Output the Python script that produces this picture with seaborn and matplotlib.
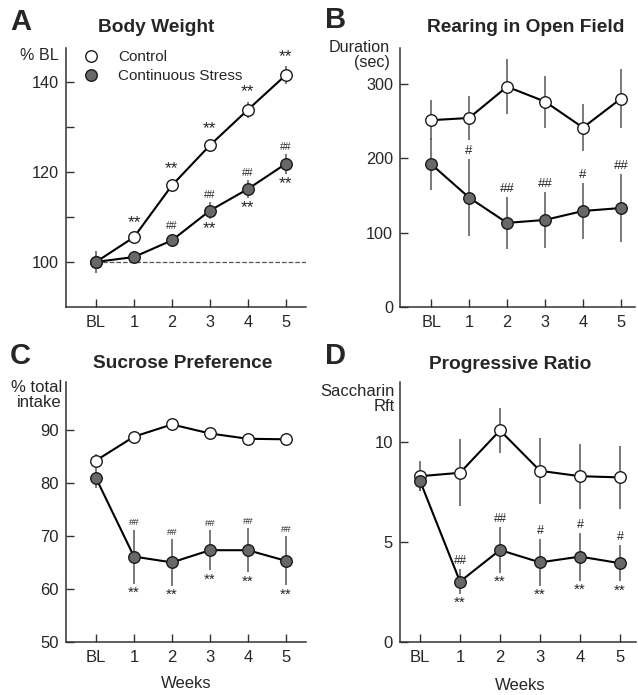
import numpy as np
import pandas as pd
import matplotlib
matplotlib.use('Agg')
import matplotlib.pyplot as plt
from matplotlib.lines import Line2D
import seaborn as sns

# DATOS
weeks = ['BL', '1', '2', '3', '4', '5']
groups = ['Control', 'Continuous Stress']

bw_ctrl = [100, 105.5, 117.0, 125.9, 133.8, 141.5]
bw_ctrl_err = [1.5, 1.2, 1.5, 1.5, 1.8, 2.0]
bw_stress = [100, 101.1, 104.8, 111.4, 116.2, 121.8]
bw_stress_err = [2.4, 1.0, 1.5, 1.8, 2.0, 2.2]

rear_ctrl = [251, 254, 296, 276, 241, 280]
rear_ctrl_err = [27, 30, 37, 35, 32, 40]
rear_stress = [192, 147, 113, 117, 129, 133]
rear_stress_err = [35, 52, 35, 38, 38, 46]

suc_ctrl = [84.2, 88.7, 91.0, 89.3, 88.3, 88.2]
suc_ctrl_err = [1.2, 1.0, 0.8, 1.0, 0.8, 0.9]
suc_stress = [80.9, 66.1, 65.0, 67.3, 67.3, 65.3]
suc_stress_err = [1.8, 5.1, 4.4, 3.8, 4.2, 4.6]

pr_ctrl = [8.29, 8.46, 10.58, 8.56, 8.29, 8.23]
pr_ctrl_err = [0.76, 1.68, 1.13, 1.66, 1.63, 1.56]
pr_stress = [8.06, 3.02, 4.6, 3.98, 4.27, 3.94]
pr_stress_err = [0.5, 0.61, 1.13, 1.16, 1.2, 0.91]

# anotaciones: (grupo, semana, texto, lado, tamano)
ann_A = [('Control', i, '**', 'up', 12.5) for i in range(1, 6)] + \
        [('Continuous Stress', i, '##', 'up', 7.5) for i in range(2, 6)] + \
        [('Continuous Stress', i, '**', 'down', 12.5) for i in range(3, 6)]
ann_B = [('Continuous Stress', 1, '#', 'up', 9.5), ('Continuous Stress', 2, '##', 'up', 9.5),
         ('Continuous Stress', 3, '##', 'up', 9.5), ('Continuous Stress', 4, '#', 'up', 9.5),
         ('Continuous Stress', 5, '##', 'up', 9.5)]
ann_C = [('Continuous Stress', i, '##', 'up', 6.8) for i in range(1, 6)] + \
        [('Continuous Stress', i, '**', 'down', 11) for i in range(1, 6)]
ann_D = [('Continuous Stress', 1, '##', 'up', 8.5), ('Continuous Stress', 2, '##', 'up', 8.5),
         ('Continuous Stress', 3, '#', 'up', 9), ('Continuous Stress', 4, '#', 'up', 9),
         ('Continuous Stress', 5, '#', 'up', 9)] + \
        [('Continuous Stress', i, '**', 'down', 11) for i in range(1, 6)]

sns.set_style('ticks')
plt.rcParams['font.family'] = ['Liberation Sans', 'DejaVu Sans']

FILL = {'Control': 'white', 'Continuous Stress': '#686868'}


def panel(ax, ctrl, ctrl_err, stress, stress_err, ann, xlim, ylim, yticks, ylabels, fs):
    df = pd.DataFrame({'pos': list(range(6)) * 2,
                       'val': ctrl + stress,
                       'err': ctrl_err + stress_err,
                       'grupo': ['Control'] * 6 + ['Continuous Stress'] * 6})
    for g in groups:
        d = df[df.grupo == g]
        ax.errorbar(d.pos, d.val, yerr=d.err, fmt='none', ecolor='#555555',
                    elinewidth=1.1, capsize=0, zorder=1)
        sns.lineplot(data=d, x='pos', y='val', ax=ax, color='black', lw=1.5,
                     marker='o', markersize=8.3, markerfacecolor=FILL[g],
                     markeredgecolor='#1a1a1a', markeredgewidth=1.0,
                     errorbar=None, legend=False, zorder=3)
    for g, i, txt, side, s in ann:
        d = df[(df.grupo == g) & (df.pos == i)].iloc[0]
        if side == 'up':
            ax.annotate(txt, (i, d.val + d.err), xytext=(0, 1.5), textcoords='offset points',
                        ha='center', va='bottom', fontsize=s)
        else:
            ax.annotate(txt, (i, d.val - d.err), xytext=(0, -1.5), textcoords='offset points',
                        ha='center', va='top', fontsize=s)
    ax.set_xlim(*xlim)
    ax.set_ylim(*ylim)
    ax.set_xticks(range(6))
    ax.set_xticklabels(weeks)
    ax.set_yticks(yticks)
    ax.set_yticklabels(ylabels)
    ax.tick_params(direction='in', length=6, width=1, labelsize=fs, color='#333333')
    ax.tick_params(axis='x', pad=6)
    ax.tick_params(axis='y', pad=5)
    ax.set_xlabel('')
    ax.set_ylabel('')
    for s in ['top', 'right']:
        ax.spines[s].set_visible(False)
    for s in ['left', 'bottom']:
        ax.spines[s].set_color('#333333')
        ax.spines[s].set_linewidth(1.1)


fig = plt.figure(figsize=(6.38, 6.95), dpi=100)
W, H = 638, 695


def add_ax(l, r, t, b):
    return fig.add_axes([l / W, 1 - b / H, (r - l) / W, (b - t) / H])


axA = add_ax(66, 306, 48, 307)
axB = add_ax(400, 635, 48, 307)
axC = add_ax(66, 306, 382, 642)
axD = add_ax(400, 636, 382, 642)

panel(axA, bw_ctrl, bw_ctrl_err, bw_stress, bw_stress_err, ann_A, (-0.79, 5.53), (90, 147.5),
      [100, 110, 120, 130, 140], ['100', '', '120', '', '140'], 11.7)
axA.plot([0, 5.53], [100, 100], ls='--', color='#555555', lw=0.9, zorder=0)
panel(axB, rear_ctrl, rear_ctrl_err, rear_stress, rear_stress_err, ann_B, (-0.82, 5.37), (0, 348),
      [0, 100, 200, 300], ['0', '100', '200', '300'], 11.7)
panel(axC, suc_ctrl, suc_ctrl_err, suc_stress, suc_stress_err, ann_C, (-0.79, 5.53), (50, 99),
      [50, 60, 70, 80, 90], ['50', '60', '70', '80', '90'], 12)
panel(axD, pr_ctrl, pr_ctrl_err, pr_stress, pr_stress_err, ann_D, (-0.5, 5.4), (0, 13),
      [0, 5, 10], ['0', '5', '10'], 12)

# leyenda
handles = [Line2D([], [], ls='none', marker='o', ms=8.3, mfc=FILL[g], mec='#1a1a1a', mew=1.0)
           for g in groups]
axA.legend(handles, groups, loc='upper left', bbox_to_anchor=(0.015, 1.015), frameon=False,
           fontsize=11, handletextpad=0.8, labelspacing=0.32, borderaxespad=0.0)

# titulos y letras
fig.text(10 / W, 1 - 22 / H, 'A', fontsize=21, fontweight='bold', va='center')
fig.text(325 / W, 1 - 20 / H, 'B', fontsize=21, fontweight='bold', va='center')
fig.text(10 / W, 1 - 356 / H, 'C', fontsize=21, fontweight='bold', va='center')
fig.text(325 / W, 1 - 356 / H, 'D', fontsize=21, fontweight='bold', va='center')
fig.text(156 / W, 1 - 27 / H, 'Body Weight', fontsize=13.8, fontweight='bold', ha='center', va='center')
fig.text(526 / W, 1 - 27 / H, 'Rearing in Open Field', fontsize=13.8, fontweight='bold', ha='center', va='center')
fig.text(183 / W, 1 - 363 / H, 'Sucrose Preference', fontsize=13.8, fontweight='bold', ha='center', va='center')
fig.text(510 / W, 1 - 365 / H, 'Progressive Ratio', fontsize=13.8, fontweight='bold', ha='center', va='center')

# etiquetas de eje y
fig.text(59 / W, 1 - 55 / H, '% BL', fontsize=11.6, ha='right', va='center')
fig.text(390 / W, 1 - 55 / H, 'Duration\n(sec)', fontsize=11.6, ha='right', va='center', linespacing=1.05)
fig.text(62 / W, 1 - 395 / H, '% total\nintake', fontsize=12, ha='right', va='center', linespacing=1.05)
fig.text(395 / W, 1 - 399 / H, 'Saccharin\nRft', fontsize=12, ha='right', va='center', linespacing=1.05)
fig.text(186 / W, 1 - 683 / H, 'Weeks', fontsize=12, ha='center', va='center')
fig.text(520 / W, 1 - 685 / H, 'Weeks', fontsize=12, ha='center', va='center')

fig.savefig('out.png', dpi=100)
